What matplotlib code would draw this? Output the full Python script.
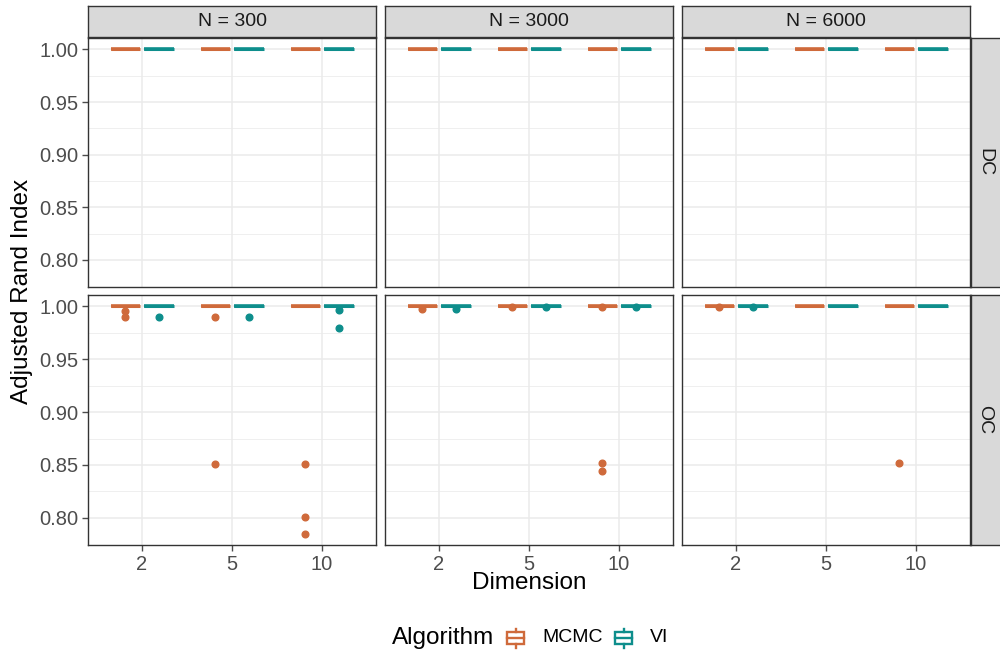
import matplotlib
matplotlib.use("Agg")
import matplotlib.pyplot as plt
from matplotlib.patches import Rectangle
import numpy as np

plt.rcParams['font.family'] = ['Liberation Sans', 'DejaVu Sans']

# ---------------- data ----------------
sample_sizes = ["N = 300", "N = 3000", "N = 6000"]
cluster_types = ["DC", "OC"]
dimensions = ["2", "5", "10"]
algorithms = ["MCMC", "VI"]
colors = {"MCMC": "#CF6A3B", "VI": "#0E8E8C"}
n_reps = 20  # replicate runs per cell; non-outlier runs reach ARI = 1.00

# outlier ARI values (runs below 1.00) per (N, algorithm), listed per dimension
outliers_DC = {
    ("N = 300", "MCMC"): [[], [], []],
    ("N = 300", "VI"): [[], [], []],
    ("N = 3000", "MCMC"): [[], [], []],
    ("N = 3000", "VI"): [[], [], []],
    ("N = 6000", "MCMC"): [[], [], []],
    ("N = 6000", "VI"): [[], [], []],
}
outliers_OC = {
    ("N = 300", "MCMC"): [[0.996, 0.990], [0.990, 0.851], [0.851, 0.801, 0.785]],
    ("N = 300", "VI"): [[0.990], [0.990], [0.997, 0.980]],
    ("N = 3000", "MCMC"): [[0.998], [0.999], [0.999, 0.852, 0.844]],
    ("N = 3000", "VI"): [[0.998], [0.999], [0.999]],
    ("N = 6000", "MCMC"): [[0.9995], [], [0.852]],
    ("N = 6000", "VI"): [[0.999], [], []],
}
outliers = {"DC": outliers_DC, "OC": outliers_OC}

y_ticks = [0.80, 0.85, 0.90, 0.95, 1.00]
y_minor = [0.825, 0.875, 0.925, 0.975]

# ---------------- layout ----------------
W, H = 1000, 654
fig = plt.figure(figsize=(W / 100, H / 100), dpi=100)

def fax(x0, y0, x1, y1):
    return fig.add_axes([x0 / W, 1 - y1 / H, (x1 - x0) / W, (y1 - y0) / H])

col_x = [(88, 376), (385, 673), (682, 970)]
row_y = [(38, 287), (295, 545)]
strip_top = (6, 37)
strip_right = (971, 1000)

ylo, yhi = 0.7743, 1.0108
dodge = 0.185
bw = 0.33
grid_c = "#EBEBEB"
border_c = "#333333"
tick_c = "#4D4D4D"

for r, ct in enumerate(cluster_types):
    for c, ns in enumerate(sample_sizes):
        x0, x1 = col_x[c]
        y0, y1 = row_y[r]
        ax = fax(x0, y0, x1, y1)
        ax.set_xlim(0.4, 3.6)
        ax.set_ylim(ylo, yhi)
        ax.set_xticks([1, 2, 3])
        ax.set_yticks(y_ticks)
        ax.set_yticks(y_minor, minor=True)
        ax.grid(True, which="major", color=grid_c, lw=1.1, zorder=0)
        ax.grid(True, which="minor", axis="y", color=grid_c, lw=0.55, zorder=0)
        ax.set_axisbelow(True)
        for s in ax.spines.values():
            s.set_color(border_c)
            s.set_linewidth(1.0)
        ax.tick_params(which="major", length=4, color=tick_c, width=1.0,
                       labelsize=14.5, labelcolor=tick_c, pad=3)
        ax.tick_params(which="minor", length=0)
        if c == 0:
            ax.set_yticklabels([f"{v:.2f}" for v in y_ticks])
        else:
            ax.tick_params(axis="y", which="major", length=0, labelleft=False)
        if r == 1:
            ax.set_xticklabels(dimensions)
        else:
            ax.tick_params(axis="x", which="major", length=0, labelbottom=False)

        for k, alg in enumerate(algorithms):
            col = colors[alg]
            offs = -dodge if alg == "MCMC" else dodge
            out_lists = outliers[ct][(ns, alg)]
            data = [np.array([1.0] * n_reps + out_lists[i]) for i in range(3)]
            pos = [i + 1 + offs for i in range(3)]
            ax.boxplot(data, positions=pos, widths=bw, whis=1.5,
                       patch_artist=True, manage_ticks=False,
                       boxprops=dict(facecolor="white", edgecolor=col, lw=2.2),
                       medianprops=dict(color=col, lw=2.6),
                       whiskerprops=dict(color=col, lw=1.4),
                       capprops=dict(color=col, lw=0),
                       flierprops=dict(marker="o", markerfacecolor=col,
                                       markeredgecolor=col, markersize=4.8,
                                       linestyle="none"),
                       zorder=3)

# top strips
for c, ns in enumerate(sample_sizes):
    x0, x1 = col_x[c]
    sax = fax(x0, strip_top[0], x1, strip_top[1])
    sax.set_facecolor("#D9D9D9")
    sax.set_xticks([]); sax.set_yticks([])
    for s in sax.spines.values():
        s.set_color(border_c); s.set_linewidth(1.0)
    sax.text(0.5, 0.5, ns, ha="center", va="center", fontsize=14,
             color="#1A1A1A", transform=sax.transAxes)

# right strips
for r, ct in enumerate(cluster_types):
    y0, y1 = row_y[r]
    sax = fax(strip_right[0], y0, strip_right[1] + 2, y1)
    sax.set_facecolor("#D9D9D9")
    sax.set_xticks([]); sax.set_yticks([])
    for s in sax.spines.values():
        s.set_color(border_c); s.set_linewidth(1.0)
    sax.text(0.45, 0.5, ct, ha="center", va="center", fontsize=14,
             rotation=-90, color="#1A1A1A", transform=sax.transAxes)

# axis titles
fig.text(22 / W, 1 - 291 / H, "Adjusted Rand Index", rotation=90,
         ha="center", va="center", fontsize=17.5, color="black")
fig.text(529 / W, 1 - 583 / H, "Dimension", ha="center", va="center",
         fontsize=17.5, color="black")

# legend (drawn in pixel coordinates on an overlay)
lax = fig.add_axes([0, 0, 1, 1], zorder=10)
lax.set_xlim(0, W); lax.set_ylim(H, 0); lax.axis("off")
lax.text(392, 638, "Algorithm", ha="left", va="center", fontsize=17.5,
         color="black")
key_x = {"MCMC": 507, "VI": 615}
for alg in algorithms:
    col = colors[alg]
    kx = key_x[alg]
    lax.add_patch(Rectangle((kx, 632), 17, 12, facecolor="white",
                            edgecolor=col, lw=1.7))
    lax.plot([kx, kx + 17], [638, 638], color=col, lw=1.7)
    lax.plot([kx + 8.5, kx + 8.5], [628.5, 632], color=col, lw=1.7)
    lax.plot([kx + 8.5, kx + 8.5], [644, 647.5], color=col, lw=1.7)
    lax.text(kx + 35, 638, alg, ha="left", va="center", fontsize=14,
             color="black")

fig.savefig("out.png", dpi=100)
